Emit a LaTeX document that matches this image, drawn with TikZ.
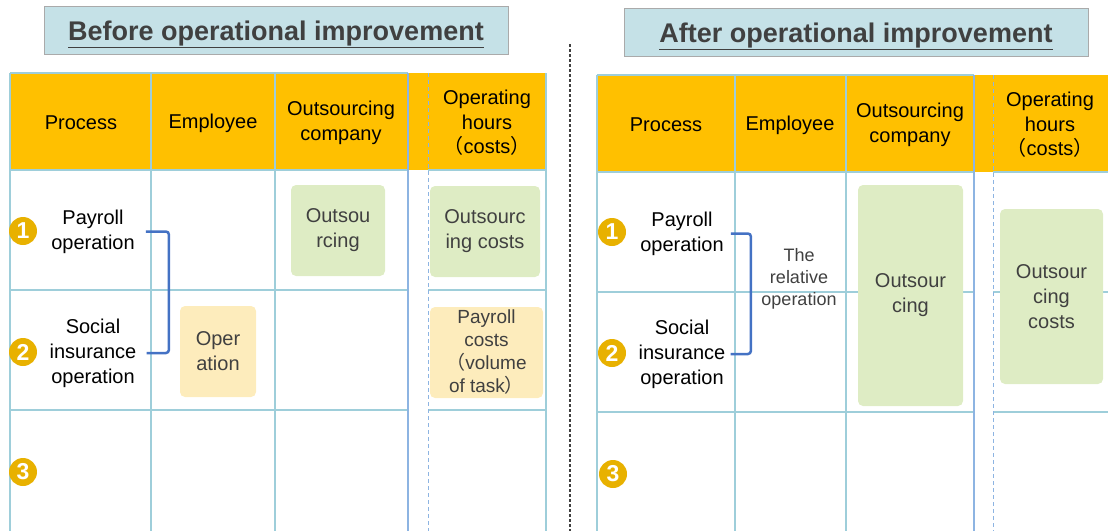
\documentclass[tikz,border=0pt]{standalone}
\usepackage{fontspec}
\setmainfont{Liberation Sans}
\newfontfamily\cjk{Noto Sans CJK SC}

\definecolor{hdryellow}{RGB}{255,192,0}
\definecolor{cellline}{RGB}{158,206,218}
\definecolor{colline}{RGB}{141,180,226}
\definecolor{boxgreen}{RGB}{222,236,196}
\definecolor{boxyellow}{RGB}{253,236,188}
\definecolor{titlefill}{RGB}{197,225,231}
\definecolor{titleline}{RGB}{170,170,170}
\definecolor{numgold}{RGB}{232,177,0}
\definecolor{brkblue}{RGB}{68,114,196}
\definecolor{boxtext}{RGB}{64,64,64}

\tikzset{
  cell/.style={cellline, line width=1.2pt},
  colsep/.style={colline, line width=1.2pt},
  dashsep/.style={colline, line width=1pt, dash pattern=on 4pt off 3pt},
  hdr/.style={font=\fontsize{20}{24.5}\selectfont, align=center, inner sep=0pt},
  lbl/.style={font=\fontsize{20}{25}\selectfont, align=center, inner sep=0pt},
  greenbox/.style={fill=boxgreen, rounded corners=5pt, align=center, text=boxtext,
    font=\fontsize{20}{25}\selectfont, inner sep=0pt},
  yellowbox/.style={greenbox, fill=boxyellow},
  num/.style={circle, fill=numgold, text=white, minimum size=28pt, inner sep=0pt,
    font=\bfseries\fontsize{23}{23}\selectfont},
  bracket/.style={brkblue, line width=2.5pt, rounded corners=3pt},
  titlebox/.style={fill=titlefill, draw=titleline, line width=1pt, minimum width=464pt,
    minimum height=48pt, text height=24pt, text depth=4pt, text=boxtext,
    font=\bfseries\fontsize{27}{30}\selectfont}
}
\newcommand{\fwl}{{\cjk （}}
\newcommand{\fwr}{{\cjk ）}}

\begin{document}
\begin{tikzpicture}[x=1pt,y=-1pt]
\useasboundingbox (0,0) rectangle (1108,531);

% titles
\node[titlebox] (titleL) at (276,30) {\underline{Before operational improvement}};
\node[titlebox] (titleR) at (856,32) {\underline{After operational improvement}};

% divider
\draw[black!75, line width=1.2pt, dash pattern=on 3pt off 2pt] (570,44) -- (570,531);

%%% before
\fill[hdryellow] (10,73) rectangle (546,170);
\foreach \y in {170,290,410}
{
  \draw[cell] (10,\y) -- (408,\y);
  \draw[cell] (428,\y) -- (546,\y);
}
\draw[cell] (10,73) -- (408,73);
\foreach \x in {10,151,275,546}
  \draw[cell] (\x,73) -- (\x,531);
\draw[colsep] (408,73) -- (408,531);
\draw[dashsep] (428,73) -- (428,531);

\node[hdr] (procL) at (81,123) {Process};
\node[hdr] (empL) at (213,123) {Employee};
\node[hdr] (outL) at (341,123) {Outsourcing\\company};
\node[hdr] (hoursL) at (487,123) {Operating\\hours\\\fwl costs\fwr};

\node[lbl] (payL) at (93,231.5) {Payroll\\operation};
\node[lbl] (socL) at (93,353) {Social\\insurance\\operation};
\node[num] (oneL) at (23,231) {1};
\node[num] (twoL) at (23,352) {2};
\node[num] (threeL) at (23,472) {3};
\draw[bracket] ([xshift=11pt]payL.east) -- ++(23,0) |- ([xshift=10pt]socL.east);

\node[greenbox, minimum width=94pt, minimum height=91pt] (osL) at (338,230.5) {Outsou\\rcing};
\node[greenbox, minimum width=110pt, minimum height=91pt] (oscL) at (485,231.5) {Outsourc\\ing costs};
\node[yellowbox, minimum width=76pt, minimum height=91pt] (opL) at (218,351.5) {Oper\\ation};
\node[yellowbox, minimum width=113pt, minimum height=91pt,
  font=\fontsize{19}{23}\selectfont] (pcL) at (486.5,352.5) {Payroll\\costs\\\fwl volume\\of task\fwr};

%%% after
\fill[hdryellow] (597,75) rectangle (1108,172);
\foreach \y in {172,292,412}
{
  \draw[cell] (597,\y) -- (974,\y);
  \draw[cell] (993,\y) -- (1108,\y);
}
\draw[cell] (597,75) -- (974,75);
\foreach \x in {597,735,846}
  \draw[cell] (\x,75) -- (\x,531);
\draw[colsep] (974,75) -- (974,531);
\draw[dashsep] (993,75) -- (993,531);

\node[hdr] (procR) at (666,125) {Process};
\node[hdr] (empR) at (790,125) {Employee};
\node[hdr] (outR) at (910,125) {Outsourcing\\company};
\node[hdr] (hoursR) at (1050,125) {Operating\\hours\\\fwl costs\fwr};

\node[lbl] (payR) at (682,233.5) {Payroll\\operation};
\node[lbl] (socR) at (682,354) {Social\\insurance\\operation};
\node[num] (oneR) at (612,232) {1};
\node[num] (twoR) at (612,353) {2};
\node[num] (threeR) at (613,474) {3};
\draw[bracket] ([xshift=7pt]payR.east) -- ++(20,0) |- ([xshift=5pt]socR.east);

\node[lbl, text=boxtext, font=\fontsize{18}{22}\selectfont] (relR) at (799,279) {The\\relative\\operation};
\node[greenbox, minimum width=105pt, minimum height=221pt] (osR) at (910.5,295.5) {Outsour\\cing};
\node[greenbox, minimum width=103pt, minimum height=175pt] (oscR) at (1051.5,296.5) {Outsour\\cing\\costs};
\end{tikzpicture}
\end{document}
